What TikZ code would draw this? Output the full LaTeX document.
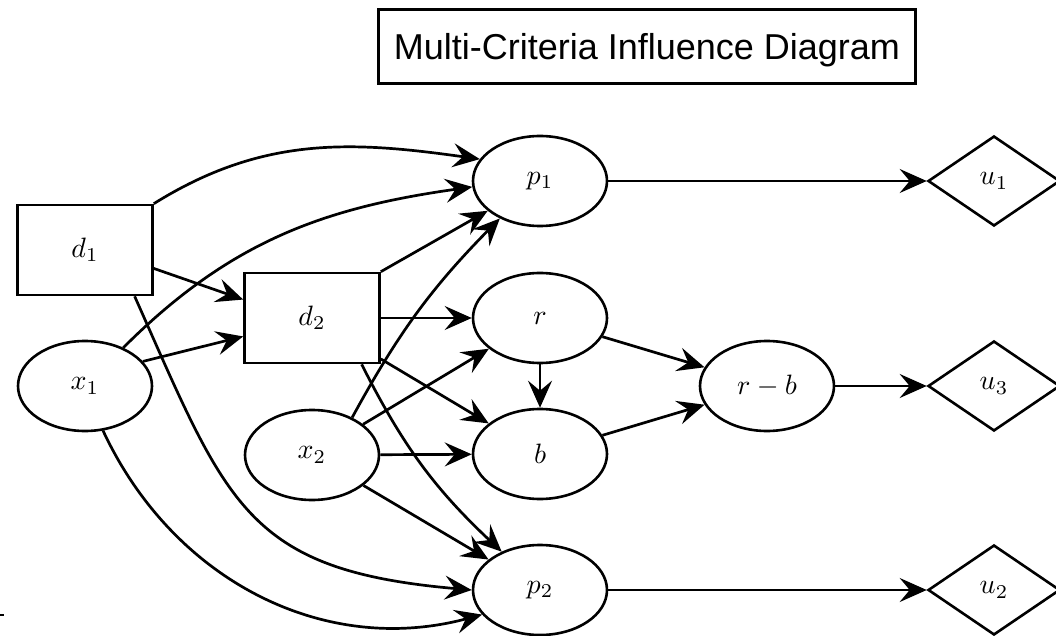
\documentclass[tikz,border=0pt]{standalone}
\usepackage{fontspec}
\newfontfamily\titlefont{Liberation Sans}
\usetikzlibrary{arrows.meta,shapes.geometric}
% node labels: math set large
\newcommand{\lbl}[1]{\scalebox{2.8}{$#1$}}
\begin{document}
\begin{tikzpicture}[x=1pt,y=1pt,
  every node/.style={line width=2.6pt},
  decision/.style={draw, rectangle, minimum width=135pt, minimum height=90pt, inner sep=0pt},
  chance/.style={draw, ellipse, minimum width=134pt, minimum height=90pt, inner sep=0pt},
  utility/.style={draw, diamond, minimum width=132pt, minimum height=90pt, inner sep=0pt},
  link/.style={line width=2.7pt, -{Stealth[length=27pt,width=24pt,inset=10pt]}},
]
\useasboundingbox (0,0) rectangle (1056,635);

% title
\node[draw, line width=3.4pt, minimum width=537pt, minimum height=74pt,
      text height=26pt, text depth=0pt,
      font=\titlefont\fontsize{36}{40}\selectfont] (title) at (647,588.5)
      {Multi-Criteria Influence Diagram};

% decisions, chances, utilities
\node[decision] (d1) at (85,385) {\lbl{d_1}};
\node[chance]   (x1) at (85,249) {\lbl{x_1}};
\node[decision] (d2) at (312,317) {\lbl{d_2}};
\node[chance]   (x2) at (312,180) {\lbl{x_2}};
\node[chance]   (p1) at (540,454) {\lbl{p_1}};
\node[chance]   (r)  at (540,317) {\lbl{r}};
\node[chance]   (b)  at (540,181) {\lbl{b}};
\node[chance]   (p2) at (540,45)  {\lbl{p_2}};
\node[chance]   (rb) at (767,249) {\lbl{r-b}};
\node[utility]  (u1) at (994,454) {\lbl{u_1}};
\node[utility]  (u3) at (994,249) {\lbl{u_3}};
\node[utility]  (u2) at (994,45)  {\lbl{u_2}};

% influences
\draw[link] (d1.north east) to[out=32,in=172] (p1.160);
\draw[link] (x1.45) to[out=45,in=188] (p1.185);
\draw[link] (d1.-15) -- (d2.165);
\draw[link] (x1.23) -- (d2.195);
\draw[link] (d1.-43) to[out=-66,in=175,looseness=1.3] (p2.west);
\draw[link] (x1.-68) to[out=-65,in=195] (p2.203);
\draw[link] (d2.north east) -- (p1);
\draw[link] (x2.43) to[bend left=8] (p1.223);
\draw[link] (d2) -- (r);
\draw[link] (x2) -- (r);
\draw[link] (d2) -- (b);
\draw[link] (x2) -- (b);
\draw[link] (d2.-43) to[bend right=10] (p2.135);
\draw[link] (x2) -- (p2);
\draw[link] (r) -- (b);
\draw[link] (r) -- (rb);
\draw[link] (b) -- (rb);
\draw[link] (p1) -- (u1);
\draw[link] (rb) -- (u3);
\draw[link] (p2) -- (u2);

% small stub at the lower left edge
\draw[line width=2pt] (0,20) -- (4,20);
\end{tikzpicture}
\end{document}
